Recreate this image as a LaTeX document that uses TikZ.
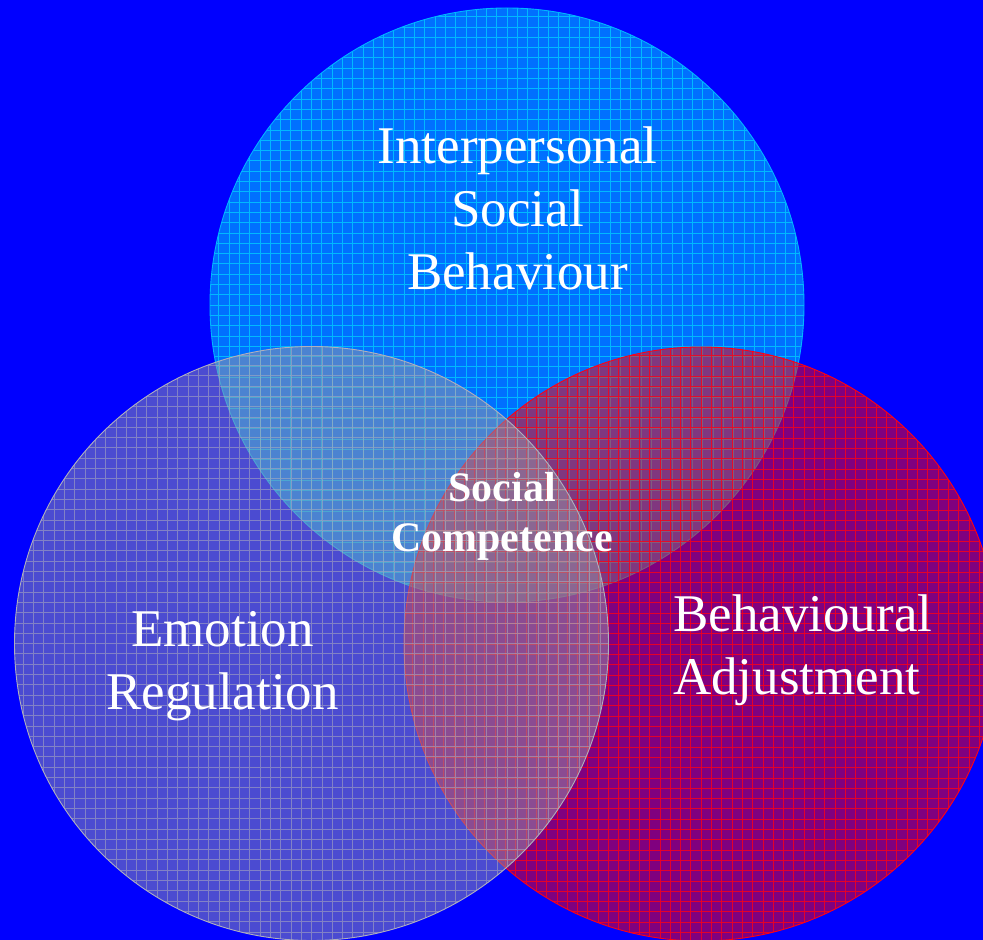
\documentclass[tikz,border=0pt]{standalone}
\usepackage{fontspec}
\setmainfont{Liberation Serif}

\definecolor{skyfill}{RGB}{0,112,255}
\definecolor{skygrid}{RGB}{0,225,255}
\definecolor{greyfill}{RGB}{150,150,165}
\definecolor{greygrid}{RGB}{175,175,190}
\definecolor{redfill}{RGB}{255,0,0}
\definecolor{redgrid}{RGB}{255,0,20}

\begin{document}
\begin{tikzpicture}[x=1pt,y=1pt,
    ring/.style={circle,minimum size=594pt,inner sep=0pt,line width=0.9pt},
    gridded/.style={path picture={
        \draw[#1,line width=0.6pt,step=10.3pt]
            (path picture bounding box.south west) grid (path picture bounding box.north east);}},
    bigtext/.style={text=white,font=\fontsize{53}{63}\selectfont,inner sep=0pt},
    smalltext/.style={text=white,font=\fontsize{42}{50}\selectfont\bfseries,inner sep=0pt}]
    
    % blue background, fixes the size
    \fill[blue] (0,0) rectangle (983,940);
    \useasboundingbox (0,0) rectangle (983,940);
    
    % the three circles
    \node[ring,fill=skyfill,draw=skygrid!80!blue,gridded={skygrid,draw opacity=0.65}] (social) at (507,635) {};
    \node[ring,fill=redfill,fill opacity=0.5,draw=redgrid,gridded={redgrid,draw opacity=0.8}] (behav) at (701,296) {};
    \node[ring,fill=greyfill,fill opacity=0.5,draw=greygrid,gridded={greygrid,draw opacity=0.55}] (emot) at (311.5,296.5) {};
    
    % labels (base = last line)
    \node[bigtext,align=center,anchor=base] (lsocial) at (517.5,650) {Interpersonal\\Social\\Behaviour};
    \node[bigtext,align=center,anchor=base] (lemot) at (222.5,230) {Emotion\\Regulation};
    \node[bigtext,align=left,anchor=base west] (lbehav) at (673,245) {Behavioural\\Adjustment};
    \node[smalltext,align=center,anchor=base] (lcomp) at (502,388) {Social\\Competence};
    
\end{tikzpicture}
\end{document}
